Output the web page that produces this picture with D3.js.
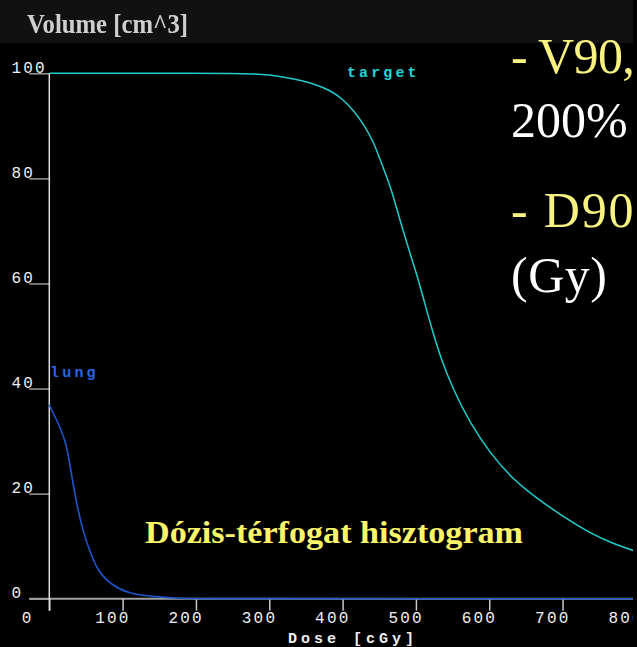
<!DOCTYPE html>
<html>
<head>
<meta charset="utf-8">
<script src="https://cdn.jsdelivr.net/npm/d3@7"></script>
<style>
  html, body { margin: 0; padding: 0; background: #000; }
  svg { display: block; }
</style>
</head>
<body>
<script>
// Dose-volume histogram: cumulative volume (%) vs. dose (cGy)
const targetDose = [0, 100, 200, 250, 280, 300, 320, 342, 360, 383, 399, 415, 431, 442, 453, 467, 478, 492, 505, 519, 533, 551, 574, 601, 633, 665, 701, 738, 769, 800, 810];
const targetVol  = [100, 100, 100, 100, 99.9, 99.7, 99.3, 98.7, 98.0, 96.8, 95.2, 93.0, 89.8, 87.0, 82.9, 77.8, 72.1, 65.7, 60.0, 52.6, 46.1, 39.7, 33.4, 27.7, 22.6, 19.1, 15.6, 12.4, 10.5, 9.0, 8.6];

const lungDose = [0, 7.8, 14.6, 23.7, 28.2, 32.7, 39.5, 46.4, 55.5, 66.8, 85, 107.7, 139.6, 180, 200, 810];
const lungVol  = [36.9, 34.6, 32.7, 29.2, 25.4, 21.6, 16.6, 12.7, 8.9, 5.1, 2.6, 1.0, 0.4, 0.05, 0, 0];

const xTicks = [0, 100, 200, 300, 400, 500, 600, 700, 800];
const yTicks = [0, 20, 40, 60, 80, 100];

const W = 637, H = 647;
const plotRight = 633;

const svg = d3.select("body").append("svg")
  .attr("width", W).attr("height", H);

svg.append("rect").attr("width", W).attr("height", H).attr("fill", "#000");
// header strip behind the volume caption
svg.append("rect").attr("width", plotRight).attr("height", 43).attr("fill", "#111");

const defs = svg.append("defs");
defs.append("clipPath").attr("id", "plotClip")
  .append("rect").attr("x", 0).attr("y", 0).attr("width", plotRight).attr("height", H);
defs.append("filter").attr("id", "soft")
  .append("feGaussianBlur").attr("stdDeviation", 0.6);

const x = d3.scaleLinear().domain([0, 800]).range([49.3, 635.9]);
const y = d3.scaleLinear().domain([0, 100]).range([598.7, 73.3]);

const chart = svg.append("g").attr("clip-path", "url(#plotClip)");

const monoFont = "'Liberation Mono', 'Courier New', monospace";

// baseline of the dose axis
chart.append("line")
  .attr("x1", x(0) - 20).attr("x2", plotRight)
  .attr("y1", y(0)).attr("y2", y(0))
  .attr("stroke", "#a0a0a0").attr("stroke-width", 2);

// dose axis
const xAxis = chart.append("g")
  .attr("transform", `translate(0,${y(0)})`)
  .call(d3.axisBottom(x).tickValues(xTicks).tickSize(12).tickSizeOuter(0));
xAxis.select(".domain").remove();
xAxis.selectAll(".tick line").attr("stroke", "#c8c8c8").attr("stroke-width", 1.5);
xAxis.selectAll(".tick text")
  .attr("fill", "#f0f0f0")
  .attr("font-family", monoFont)
  .attr("font-size", 16)
  .attr("letter-spacing", 2.2)
  .attr("text-anchor", "start")
  .attr("x", -28)
  .attr("y", 24.5)
  .attr("dy", 0);

// volume axis
const yAxis = chart.append("g")
  .attr("transform", `translate(${x(0)},0)`)
  .call(d3.axisLeft(y).tickValues(yTicks).tickSize(20).tickSizeOuter(0));
yAxis.select(".domain").remove();
yAxis.selectAll(".tick line").attr("stroke", "#9a9a9a").attr("stroke-width", 1.5);
yAxis.selectAll(".tick text")
  .attr("fill", "#f0f0f0")
  .attr("font-family", monoFont)
  .attr("font-size", 16)
  .attr("letter-spacing", 2.2)
  .attr("text-anchor", "start")
  .attr("x", 11.5 - x(0))
  .attr("y", -0.8)
  .attr("dy", 0);

chart.append("line")
  .attr("x1", x(0)).attr("x2", x(0))
  .attr("y1", y(100)).attr("y2", y(0) + 12)
  .attr("stroke", "#dcdcdc").attr("stroke-width", 1.5);

const line = d3.line()
  .x(d => x(d[0]))
  .y(d => y(d[1]))
  .curve(d3.curveBasis);

chart.append("path")
  .datum(lungDose.map((d, i) => [d, lungVol[i]]))
  .attr("d", line)
  .attr("fill", "none")
  .attr("stroke", "#1e56c8")
  .attr("stroke-width", 1.6);

chart.append("path")
  .datum(targetDose.map((d, i) => [d, targetVol[i]]))
  .attr("d", line)
  .attr("fill", "none")
  .attr("stroke", "#22cccc")
  .attr("stroke-width", 1.5);

// structure labels
chart.append("text")
  .attr("x", 347).attr("y", 77)
  .attr("fill", "#22d4d4")
  .attr("font-family", monoFont).attr("font-weight", "bold")
  .attr("font-size", 15).attr("letter-spacing", 3.1)
  .text("target");

chart.append("text")
  .attr("x", 50).attr("y", 377)
  .attr("fill", "#2a66e0")
  .attr("font-family", monoFont).attr("font-weight", "bold")
  .attr("font-size", 15).attr("letter-spacing", 3.2)
  .text("lung");

// axis captions
chart.append("text")
  .attr("x", 288).attr("y", 643)
  .attr("fill", "#f0f0f0")
  .attr("font-family", monoFont).attr("font-weight", "bold")
  .attr("font-size", 15).attr("letter-spacing", 4)
  .text("Dose [cGy]");

chart.append("text")
  .attr("x", 27).attr("y", 33)
  .attr("fill", "#cfcfcf")
  .attr("font-family", "'Liberation Serif', 'Times New Roman', serif")
  .attr("font-weight", "bold")
  .attr("font-size", 27)
  .attr("textLength", 161).attr("lengthAdjust", "spacingAndGlyphs")
  .attr("filter", "url(#soft)")
  .text("Volume [cm^3]");

// overlaid slide text
const serif = "'Liberation Serif', 'Times New Roman', serif";
const notes = [
  { t: "- V90,", yb: 73, c: "#f8f280", ls: -0.6 },
  { t: "200%", yb: 137, c: "#ffffff", ls: 0 },
  { t: "- D90", yb: 227, c: "#f8f280", ls: 1.8 },
  { t: "(Gy)", yb: 292, c: "#ffffff", ls: 0.5 }
];
svg.selectAll("text.note").data(notes).enter().append("text")
  .attr("class", "note")
  .attr("x", 511).attr("y", d => d.yb)
  .attr("fill", d => d.c)
  .attr("font-family", serif)
  .attr("font-size", 50)
  .attr("letter-spacing", d => d.ls)
  .text(d => d.t);

svg.append("text")
  .attr("x", 145).attr("y", 543)
  .attr("fill", "#fbf56a")
  .attr("font-family", serif)
  .attr("font-weight", "bold")
  .attr("font-size", 32)
  .attr("textLength", 378).attr("lengthAdjust", "spacingAndGlyphs")
  .text("Dózis-térfogat hisztogram");
</script>
</body>
</html>
